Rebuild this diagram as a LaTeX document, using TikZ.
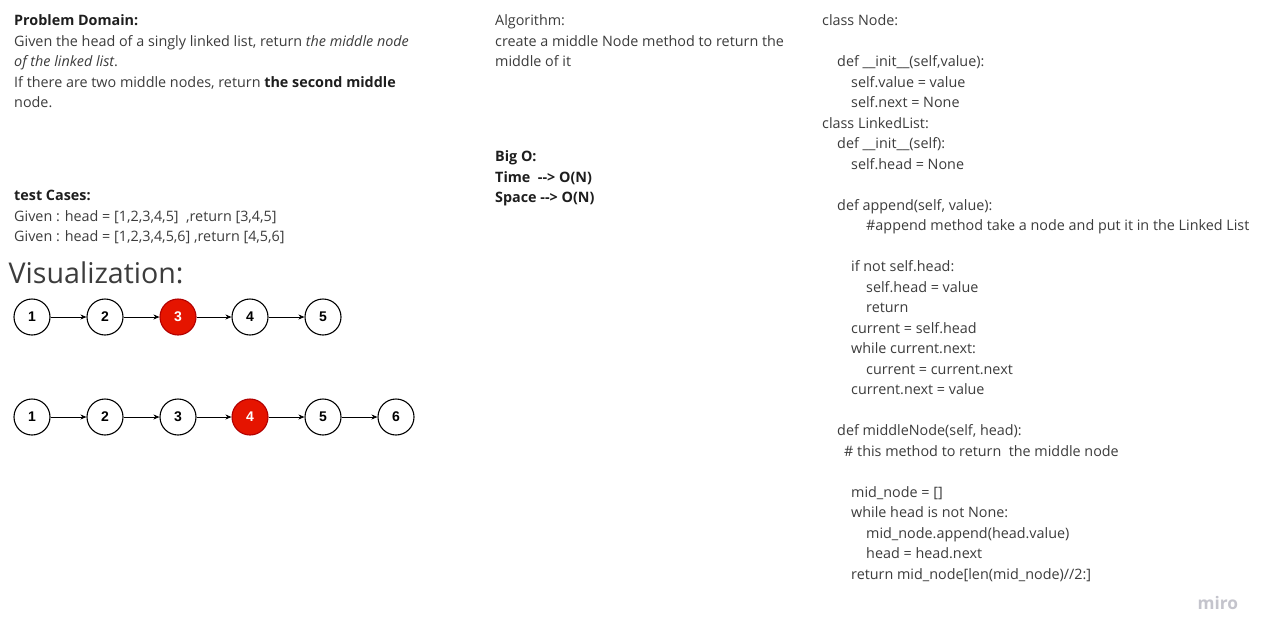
\documentclass[tikz,border=0pt]{standalone}
\usepackage{fontspec}
\setmainfont{Open Sans}
\newfontfamily\arialfont{Liberation Sans}
\usetikzlibrary{arrows.meta}
\definecolor{txt}{HTML}{3C3C3C}
\definecolor{txtb}{HTML}{1E1E1E}
\definecolor{redfill}{HTML}{E51400}
\definecolor{redline}{HTML}{B20000}
\definecolor{mirogray}{HTML}{C4C4CC}
\tikzset{
  txtline/.style={anchor=base west, inner sep=0pt, text=txt, font=\fontsize{14.35}{20.5}\selectfont},
  boldline/.style={txtline, text=txtb, font=\fontsize{14.35}{20.5}\selectfont\bfseries},
  lnode/.style={circle, draw=black, line width=1.1pt, fill=white, minimum size=36pt, inner sep=0pt, font=\arialfont\bfseries\fontsize{14}{16}\selectfont},
  rnode/.style={lnode, draw=redline, fill=redfill, text=white},
  link/.style={-{Stealth[length=6pt,width=5pt]}, line width=0.8pt, black}
}
\begin{document}
\begin{tikzpicture}[x=1pt,y=-1pt]
\useasboundingbox (0,0) rectangle (1268,638);
\fill[white] (0,0) rectangle (1268,638);
% left column
\node[boldline] (pd) at (14,25.5) {Problem Domain:};
\node[txtline] (pd1) at (14,46) {Given the head of a singly linked list, return \textit{the middle node}};
\node[txtline] (pd2) at (14,66.5) {\textit{of the linked list}.};
\node[txtline] (pd3) at (14,87) {If there are two middle nodes, return \textbf{\color{txtb}the second middle}};
\node[txtline] (pd4) at (14,107.5) {node.};
\node[boldline] (tc) at (14,200.5) {test Cases:};
\node[txtline] (tc1) at (14,221) {Given : head = [1,2,3,4,5] \ ,return [3,4,5]};
\node[txtline] (tc2) at (14,241.5) {Given : head = [1,2,3,4,5,6] ,return [4,5,6]};
\node[anchor=base west, inner sep=0pt, text=txt, font=\fontsize{28.6}{32}\selectfont] (vis) at (8.5,283) {Visualization:};
% list 1
\node[lnode] (a1) at (32,317) {1};
\node[lnode] (a2) at (105,317) {2};
\node[rnode] (a3) at (178,317) {3};
\node[lnode] (a4) at (250,317) {4};
\node[lnode] (a5) at (323,317) {5};
\draw[link] (a1) -- (a2);
\draw[link] (a2) -- (a3);
\draw[link] (a3) -- (a4);
\draw[link] (a4) -- (a5);
% list 2
\node[lnode] (b1) at (32,417) {1};
\node[lnode] (b2) at (105,417) {2};
\node[lnode] (b3) at (178,417) {3};
\node[rnode] (b4) at (250,417) {4};
\node[lnode] (b5) at (323,417) {5};
\node[lnode] (b6) at (396,417) {6};
\draw[link] (b1) -- (b2);
\draw[link] (b2) -- (b3);
\draw[link] (b3) -- (b4);
\draw[link] (b4) -- (b5);
\draw[link] (b5) -- (b6);
% middle column
\node[txtline] (al) at (495,25.5) {Algorithm:};
\node[txtline] (al1) at (495,46) {create a middle Node method to return the};
\node[txtline] (al2) at (495,66.5) {middle of it};
\node[boldline] (bo) at (495,161.5) {Big O:};
\node[boldline] (bo1) at (495,182) {Time \ -{}-{}> O(N)};
\node[boldline] (bo2) at (495,202.5) {Space -{}-{}> O(N)};
% code column
\node[txtline] (c0) at (822,25.5) {class Node:};
\node[txtline] (c2) at (837,66.5) {def \_\_init\_\_(self,value):};
\node[txtline] (c3) at (851,87) {self.value = value};
\node[txtline] (c4) at (851,107.5) {self.next = None};
\node[txtline] (c5) at (822,128) {class LinkedList:};
\node[txtline] (c6) at (837,148.5) {def \_\_init\_\_(self):};
\node[txtline] (c7) at (851,169) {self.head = None};
\node[txtline] (c9) at (837,210) {def append(self, value):};
\node[txtline] (c10) at (866,230.5) {\#append method take a node and put it in the Linked List};
\node[txtline] (c12) at (851,271.5) {if not self.head:};
\node[txtline] (c13) at (866,292) {self.head = value};
\node[txtline] (c14) at (866,312.5) {return};
\node[txtline] (c15) at (851,333) {current = self.head};
\node[txtline] (c16) at (851,353.5) {while current.next:};
\node[txtline] (c17) at (866,374) {current = current.next};
\node[txtline] (c18) at (851,394.5) {current.next = value};
\node[txtline] (c20) at (837,435.5) {def middleNode(self, head):};
\node[txtline] (c21) at (844,456) {\# this method to return \ the middle node};
\node[txtline] (c23) at (851,497) {mid\_node = []};
\node[txtline] (c24) at (851,517.5) {while head is not None:};
\node[txtline] (c25) at (866,538) {mid\_node.append(head.value)};
\node[txtline] (c26) at (866,558.5) {head = head.next};
\node[txtline] (c27) at (851,579) {return mid\_node[len(mid\_node)//2:]};
% logo
\node[anchor=base west, inner sep=0pt, text=mirogray, font=\fontsize{17.3}{20}\selectfont\bfseries] (miro) at (1197.5,609) {miro};
\end{tikzpicture}
\end{document}
